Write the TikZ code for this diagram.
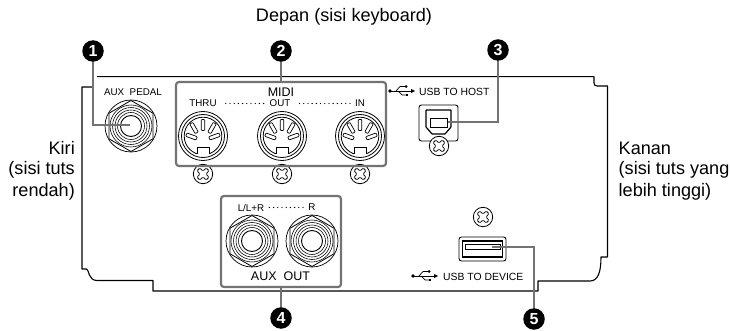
\documentclass[tikz,border=0pt]{standalone}
\usepackage{fontspec}
\setmainfont{Liberation Sans}
\tikzset{
  x=1pt,y=-1pt,
  panel/.style={line width=1.1pt,black},
  greybox/.style={draw=black!55,line width=2.2pt,rounded corners=3pt},
  leader/.style={draw=black!55,line width=2.2pt},
  callout/.style={circle,fill=black,text=white,inner sep=0pt,minimum size=21.5pt,font=\fontsize{16}{16}\selectfont\bfseries},
  biglabel/.style={inner sep=0pt,font=\fontsize{18.1}{22}\selectfont},
  smalllabel/.style={inner sep=0pt,font=\fontsize{9.8}{10}\selectfont},
  usblabel/.style={inner sep=0pt,anchor=west,font=\fontsize{10.4}{10}\selectfont},
  midilabel/.style={inner sep=0pt,font=\fontsize{12.5}{12}\selectfont},
  thin line/.style={line width=.6pt,black},
  leaderdots/.style={line width=1.35pt,line cap=round,dash pattern=on 0pt off 4.2pt},
}
\newcommand{\screwmark}[2]{%
  \begin{scope}[shift={(#1,#2)},thin line,line width=.8pt]
    \draw[fill=white] (0,0) circle[radius=9.7];
    \draw[rotate=45,rounded corners=1.2pt] (-2,-6.5)--(2,-6.5)--(2,-2)--(6.5,-2)--(6.5,2)--(2,2)--(2,6.5)--(-2,6.5)--(-2,2)--(-6.5,2)--(-6.5,-2)--(-2,-2)--cycle;
  \end{scope}}
\newcommand{\hexjack}[2]{%
  \begin{scope}[shift={(#1,#2)},thin line]
    \draw[line width=.7pt] (0,0) circle[radius=26];
    \draw[line width=.8pt] (90:25.5)--(30:25.5)--(-30:25.5)--(-90:25.5)--(-150:25.5)--(150:25.5)--cycle;
    \foreach \r in {21,18.5,16,13.5} {\draw[line width=.55pt] (0,0) circle[radius=\r];}
    \draw[line width=.9pt] (0,0) circle[radius=10.5];
  \end{scope}}
\newcommand{\dinpin}[3]{\draw[line width=.7pt,rounded corners=.8pt,shift={(#1,#2)},rotate=#3] (-5.5,-1.8) rectangle (5.5,1.8);}
\newcommand{\dinjack}[2]{%
  \begin{scope}[shift={(#1,#2)},thin line]
    \draw[line width=.8pt] (0,0) circle[radius=18.8];
    \fill[white] (-6,11.7) rectangle (6,20);
    \draw[line width=.8pt] (-6,17.8)--(-6,11.5)--(6,11.5)--(6,17.8);
    \draw[line width=.8pt] (0,0) circle[radius=24.5];
    \draw[line width=.8pt] (0,0) circle[radius=21.5];
    \dinpin{0}{-11}{90}
    \dinpin{-9}{-8}{120}
    \dinpin{9}{-8}{60}
    \dinpin{-11.5}{0.5}{160}
    \dinpin{11.5}{0.5}{20}
  \end{scope}}
\newcommand{\usbicon}[2]{%
  \begin{scope}[shift={(#1,#2)},line width=.7pt,black]
    \fill (0,0) circle[radius=1.8];
    \draw (0,0)--(22,0);
    \fill (25,0)--(21,-2)--(21,2)--cycle;
    \draw (6,0)--(10,-4.5)--(15,-4.5);
    \fill (16,-4.5) circle[radius=1.5];
    \draw (8,0)--(12,4)--(16,4);
    \fill (15.5,2.6) rectangle (18.3,5.4);
  \end{scope}}
\begin{document}
\begin{tikzpicture}
\useasboundingbox (0,0) rectangle (730,331);
% panel outline
\draw[panel,line join=round] (92,87)--(82,87)--(82,269)--(86.5,269) .. controls (89,269) and (88,280.5) .. (97,280.5)--(153,280.5)--(153,291)--(538,291)--(538,281)--(590,281) .. controls (598,281) and (601,272) .. (601,257)--(607.5,257)--(607.5,86)--(597,86) .. controls (595,86) and (594,85) .. (594,83)--(594,76.7)--(97,76.7);
% texts
\node[biglabel] (front) at (344,16.5) {Depan (sisi keyboard)};
\node[biglabel,anchor=east] (l1) at (75,148) {Kiri};
\node[biglabel,anchor=east] (l2) at (75,169.5) {(sisi tuts};
\node[biglabel,anchor=east] (l3) at (75,192) {rendah)};
\node[biglabel,anchor=west] (r1) at (618.5,148) {Kanan};
\node[biglabel,anchor=west] (r2) at (618.5,169.5) {(sisi tuts yang};
\node[biglabel,anchor=west] (r3) at (618.5,192) {lebih tinggi)};
% jacks
\hexjack{131}{126}
\node[smalllabel] (auxpedal) at (133,92) {AUX\ \ PEDAL};
\dinjack{203}{136}\dinjack{282}{136}\dinjack{360}{136}
\screwmark{203}{174}\screwmark{282}{174}\screwmark{360}{174}
\node[greybox,draw,minimum width=210pt,minimum height=84pt,inner sep=0pt] (midibox) at (281,124) {};
\node[midilabel] (midi) at (281,92.5) {MIDI};
\node[smalllabel] (thru) at (203,103.5) {THRU};
\node[smalllabel] (out) at (280,103.5) {OUT};
\node[smalllabel] (in) at (360,103.5) {IN};
\draw[leaderdots] (thru.east)++(9,0) -- ([xshift=-4pt]out.west);
\draw[leaderdots] (out.east)++(9,0) -- ([xshift=-4pt]in.west);
% usb host
\usbicon{390}{91}
\node[usblabel] (host) at (419,91.5) {USB TO HOST};
\draw[thin line,line width=.9pt,rounded corners=2.5pt] (419,105) rectangle (458,141);
\draw[line width=1.2pt,rounded corners=.5pt] (426,110)--(451,110)--(451,127)--(445,134)--(432,134)--(426,127)--cycle;
\draw[line width=.9pt] (430,118) rectangle (447,127);
\screwmark{439}{146}
% aux out
\hexjack{252}{241}\hexjack{312}{241}
\node[greybox,draw,minimum width=120pt,minimum height=91pt,inner sep=0pt] (auxbox) at (281,241.5) {};
\node[smalllabel] (ll) at (251,207.5) {L/L+R};
\node[smalllabel] (rr) at (312,207.5) {R};
\draw[leaderdots] (ll.east)++(5,0) -- ([xshift=-4pt]rr.west);
\node[midilabel] (auxout) at (280.5,276) {AUX\ \ OUT};
% usb device
\screwmark{483}{217}
\draw[line width=.9pt,rounded corners=2.5pt] (459,237) rectangle (506,261);
\draw[line width=1.2pt] (462.5,241) rectangle (502.5,257);
\draw[line width=.9pt] (465,244.5) rectangle (500,249.5);
\usbicon{413}{276}
\node[usblabel] (device) at (443,276.5) {USB TO DEVICE};
% callouts
\coordinate (k1) at (93,51);
\coordinate (k2) at (281,51);
\coordinate (k3) at (498,50);
\coordinate (k4) at (281,318);
\coordinate (k5) at (534,319);
\coordinate (t1) at (130,125);
\coordinate (t3) at (448,122);
\coordinate (t5) at (492,247);
\draw[leader] (k1) |- (t1);
\draw[leader] (k2) -- (midibox.north -| k2);
\draw[leader] (k3) |- (t3);
\draw[leader] (k4) -- (auxbox.south -| k4);
\draw[leader] (k5) |- (t5);
\node[callout] (c1) at (k1) {1};
\node[callout] (c2) at (k2) {2};
\node[callout] (c3) at (k3) {3};
\node[callout] (c4) at (k4) {4};
\node[callout] (c5) at (k5) {5};
\end{tikzpicture}
\end{document}
